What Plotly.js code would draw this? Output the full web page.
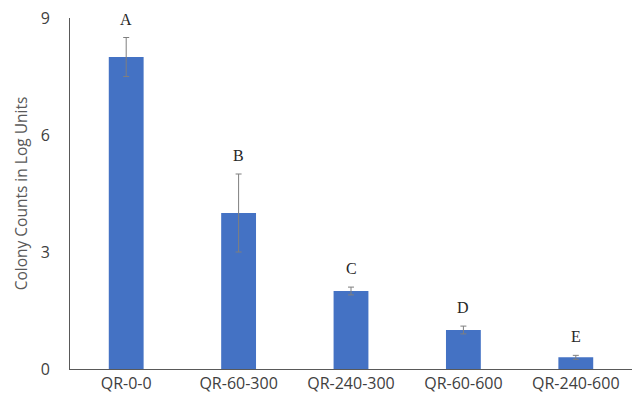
<!DOCTYPE html>
<html>
<head>
<meta charset="utf-8">
<script src="https://cdn.plot.ly/plotly-3.0.1.min.js"></script>
<style>html,body{margin:0;padding:0;background:#fff;}#chart{width:638px;height:404px;}</style>
</head>
<body>
<div id="chart"></div>
<script>
const categories = ["QR-0-0", "QR-60-300", "QR-240-300", "QR-60-600", "QR-240-600"];
const values = [8, 4, 2, 1, 0.3];
const errors = [0.5, 1, 0.1, 0.1, 0.05];
const letters = ["A", "B", "C", "D", "E"];
const yTicks = [0, 3, 6, 9];

const trace = {
  type: "bar",
  x: categories,
  y: values,
  marker: {color: "#4472C4"},
  error_y: {type: "data", array: errors, visible: true, color: "#7F7F7F", thickness: 1, width: 3},
  hoverinfo: "none"
};

const annotations = categories.map((c, i) => ({
  x: c, y: values[i] + errors[i], xref: "x", yref: "y",
  text: letters[i], showarrow: false, yanchor: "bottom", yshift: 8,
  font: {family: "Liberation Serif, serif", size: 16, color: "#262626"}
}));

const layout = {
  width: 638, height: 404,
  margin: {l: 70, r: 6, t: 18, b: 35},
  paper_bgcolor: "#fff", plot_bgcolor: "#fff",
  showlegend: false,
  bargap: 0.69,
  xaxis: {
    showgrid: false, zeroline: false, showline: true, linecolor: "#595959", linewidth: 1,
    ticks: "", tickfont: {family: "Open Sans, sans-serif", size: 16, color: "#404040"}
  },
  yaxis: {
    range: [0, 9], tickvals: yTicks, showgrid: false, zeroline: false,
    showline: true, linecolor: "#595959", linewidth: 1, ticks: "",
    tickfont: {family: "Open Sans, sans-serif", size: 16, color: "#404040"},
    ticklabelstandoff: 16,
    title: {text: "Colony Counts in Log Units", font: {family: "Open Sans, sans-serif", size: 15.5, color: "#595959"}, standoff: 9}
  },
  annotations: annotations
};

Plotly.newPlot("chart", [trace], layout, {staticPlot: true, displayModeBar: false});
</script>
</body>
</html>
